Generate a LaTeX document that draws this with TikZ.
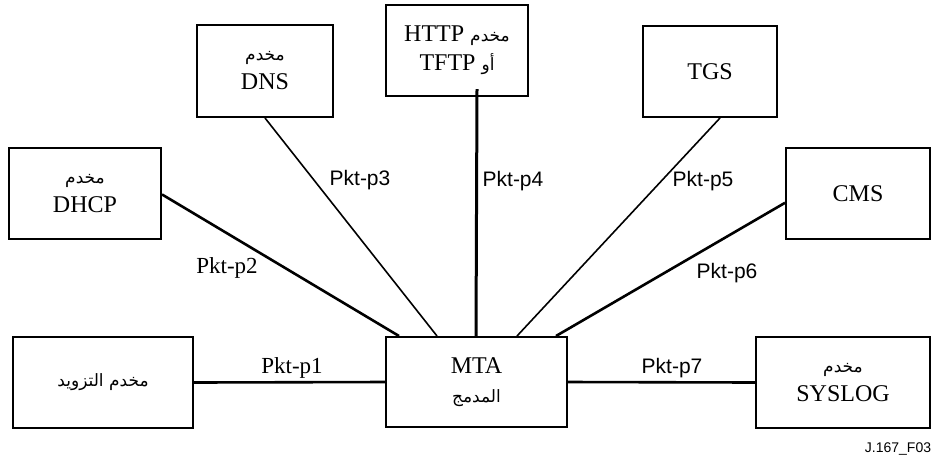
\documentclass[tikz,border=0pt]{standalone}
\usepackage{fontspec}
\setmainfont{Liberation Serif}
\setsansfont{Liberation Sans}
\newfontfamily\arabicfont[Script=Arabic]{DejaVu Sans}
\TeXXeTstate=1
\usetikzlibrary{calc}
\newcommand{\arsize}{\arabicfont\fontsize{17}{20}\selectfont}
\newcommand{\ar}[1]{{\arsize\beginR #1\endR}}
\tikzset{
  box/.style={draw, line width=2pt, inner sep=0pt, align=center,
    font=\fontsize{24}{29}\selectfont},
  thick link/.style={line width=2.6pt},
  thin link/.style={line width=1.6pt},
  lblserif/.style={font=\fontsize{23}{28}\selectfont, inner sep=0pt},
  lblsans/.style={font=\sffamily\fontsize{21}{25}\selectfont, inner sep=0pt},
}
\begin{document}
\begin{tikzpicture}[x=1pt,y=-1pt]
\useasboundingbox (0,0) rectangle (936,459);
% boxes
\node[box, minimum width=152pt, minimum height=91pt] (dhcp) at (85,193.5) {\ar{مخدم}\\DHCP};
\node[box, minimum width=136pt, minimum height=92pt] (dns) at (265,71) {\ar{مخدم}\\DNS};
\node[box, minimum width=142pt, minimum height=91pt] (http) at (457,50.5)
  {\beginR{\arsize مخدم} \beginL HTTP\endL\endR\\
   \beginR{\arsize أو} \beginL TFTP\endL\endR};
\node[box, minimum width=134pt, minimum height=91pt] (tgs) at (710,71.5) {TGS};
\node[box, minimum width=144pt, minimum height=91pt] (cms) at (858,193.5) {CMS};
\node[box, minimum width=180pt, minimum height=91pt] (prov) at (103,382.5) {\ar{مخدم التزويد}};
\node[box, minimum width=181pt, minimum height=90pt] (mta) at (476.5,382) {MTA\\\ar{المدمج}};
\node[box, minimum width=174pt, minimum height=91pt] (sys) at (843,382.5) {\ar{مخدم}\\SYSLOG};
% connectors
\draw[thick link] (prov.east) -- (mta.west);
\draw[thick link] ($(dhcp.north east)!0.51!(dhcp.south east)$) -- ($(mta.north west)+(14,0)$);
\draw[thin link] (dns.south) -- ($(mta.north west)+(52,0)$);
\draw[line width=3pt] ($(http.south)+(20,-8)$) -- ($(mta.north west)+(91,0)$);
\draw[thin link] ($(tgs.south)+(10,0)$) -- ($(mta.north west)+(132,0)$);
\draw[thick link] ($(cms.north west)!0.6!(cms.south west)$) -- ($(mta.north east)+(-12,0)$);
\draw[thick link] (mta.east) -- (sys.west);
% labels
\node[lblserif] (l1) at (292,368) {Pkt-p1};
\node[lblserif] (l2) at (227,268) {Pkt-p2};
\node[lblsans] (l3) at (360,180) {Pkt-p3};
\node[lblsans] (l4) at (513,181) {Pkt-p4};
\node[lblsans] (l5) at (703,181) {Pkt-p5};
\node[lblsans] (l6) at (727,273) {Pkt-p6};
\node[lblsans] (l7) at (672,368) {Pkt-p7};
\node[font=\sffamily\fontsize{14}{16}\selectfont, inner sep=0pt] (fig) at (898,449) {J.167\_F03};
\end{tikzpicture}
\end{document}
